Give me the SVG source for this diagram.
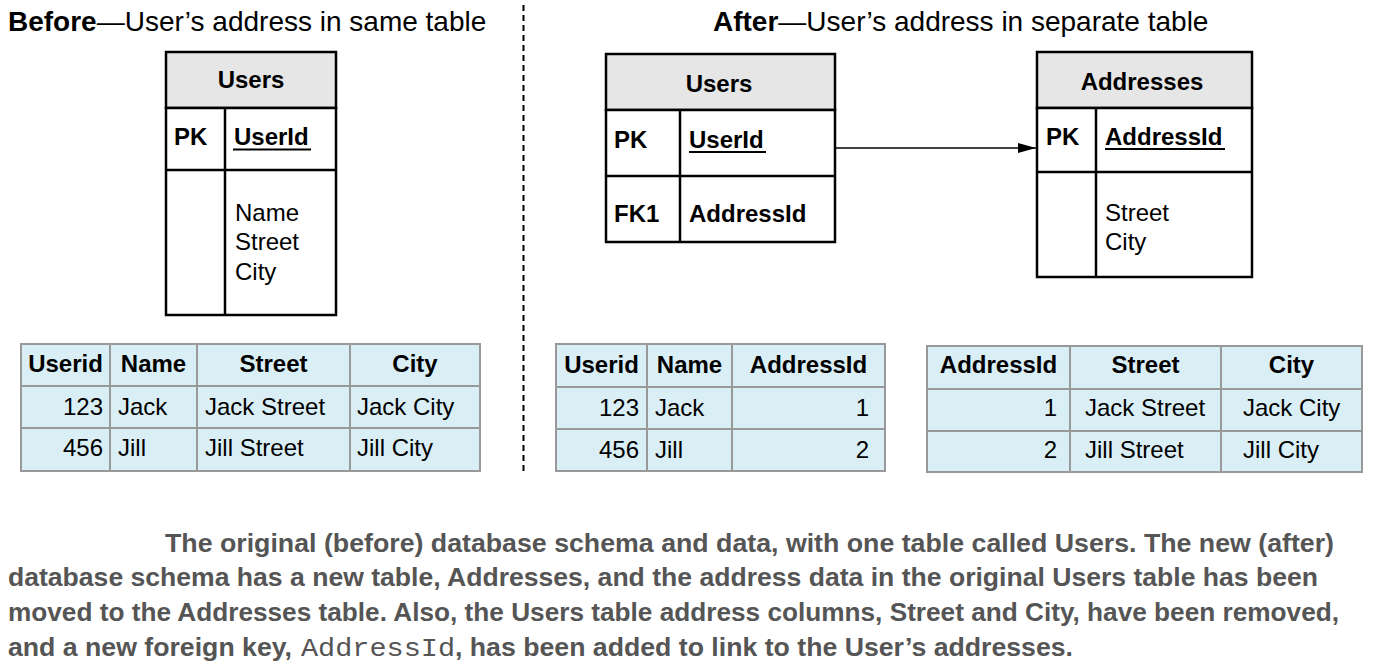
<svg xmlns="http://www.w3.org/2000/svg" width="1373" height="665" viewBox="0 0 1373 665">
<style>
text{font-family:"Liberation Sans",Arial,sans-serif;fill:#000}
.t{font-size:28px}
.b{font-weight:bold}
.er{fill:#fff;stroke:#000;stroke-width:2.5}
.hd{fill:#e6e6e6;stroke:#000;stroke-width:2.5}
.ln{stroke:#000;stroke-width:2.5;fill:none}
.lbl{font-size:24px}
.dt{fill:#daeef5;stroke:#999;stroke-width:2}
.dl{stroke:#999;stroke-width:2}
.dv{font-size:24px}
.c{text-anchor:middle}
.r{text-anchor:end}
.cap{font-size:25px;font-weight:bold;fill:#555}
.mono{font-family:"Liberation Mono","Courier New",monospace;font-size:25px;fill:#555}
</style>
<defs>
<marker id="ah" viewBox="0 0 18 10" refX="18" refY="5" markerWidth="18" markerHeight="10" markerUnits="userSpaceOnUse" orient="auto">
<path d="M0,0 L18,5 L0,10 z" fill="#000"/>
</marker>
</defs>

<g id="titles">
<text class="t" x="8" y="31"><tspan class="b">Before</tspan>—User’s address in same table</text>
<text class="t" x="713" y="31"><tspan class="b">After</tspan>—User’s address in separate table</text>
</g>
<line x1="523.5" y1="5" x2="523.5" y2="472" stroke="#000" stroke-width="2" stroke-dasharray="6,4"/>

<g id="users-before">
<rect class="hd" x="166" y="52" width="170" height="56"/>
<rect class="er" x="166" y="108" width="170" height="207"/>
<line class="ln" x1="166" y1="170" x2="336" y2="170"/>
<line class="ln" x1="225" y1="108" x2="225" y2="315"/>
<text class="lbl b c" x="251" y="88">Users</text>
<text class="lbl b" x="174" y="145">PK</text>
<text class="lbl b" x="234" y="145">UserId</text>
<line x1="233" y1="149.5" x2="311" y2="149.5" stroke="#000" stroke-width="2"/>
<text class="lbl" x="235" y="221">Name</text>
<text class="lbl" x="235" y="250">Street</text>
<text class="lbl" x="235" y="280">City</text>
</g>

<g id="users-after">
<rect class="hd" x="606" y="54" width="229" height="56"/>
<rect class="er" x="606" y="110" width="229" height="132"/>
<line class="ln" x1="606" y1="176" x2="835" y2="176"/>
<line class="ln" x1="680" y1="110" x2="680" y2="242"/>
<text class="lbl b c" x="719" y="92">Users</text>
<text class="lbl b" x="614" y="148">PK</text>
<text class="lbl b" x="689" y="148">UserId</text>
<line x1="689" y1="152" x2="766" y2="152" stroke="#000" stroke-width="2"/>
<text class="lbl b" x="614" y="222">FK1</text>
<text class="lbl b" x="689" y="222">AddressId</text>
</g>

<g id="addresses">
<rect class="hd" x="1037" y="52" width="215" height="56"/>
<rect class="er" x="1037" y="108" width="215" height="169"/>
<line class="ln" x1="1037" y1="172" x2="1252" y2="172"/>
<line class="ln" x1="1096" y1="108" x2="1096" y2="277"/>
<text class="lbl b c" x="1142" y="90">Addresses</text>
<text class="lbl b" x="1046" y="145">PK</text>
<text class="lbl b" x="1105" y="145">AddressId</text>
<line x1="1105" y1="149" x2="1225" y2="149" stroke="#000" stroke-width="2"/>
<text class="lbl" x="1105" y="221">Street</text>
<text class="lbl" x="1105" y="250">City</text>
</g>

<g id="connectors">
<line x1="835" y1="148" x2="1036" y2="148" stroke="#000" stroke-width="1.5" marker-end="url(#ah)"/>
</g>

<g id="data-before">
<rect class="dt" x="21" y="344" width="459" height="127"/>
<line class="dl" x1="21" y1="386" x2="480" y2="386"/>
<line class="dl" x1="21" y1="428" x2="480" y2="428"/>
<line class="dl" x1="110" y1="344" x2="110" y2="471"/>
<line class="dl" x1="197" y1="344" x2="197" y2="471"/>
<line class="dl" x1="350" y1="344" x2="350" y2="471"/>
<text class="dv b c" x="65.5" y="372">Userid</text>
<text class="dv b c" x="153.5" y="372">Name</text>
<text class="dv b c" x="273.5" y="372">Street</text>
<text class="dv b c" x="415" y="372">City</text>
<text class="dv r" x="103" y="415">123</text>
<text class="dv" x="118" y="415">Jack</text>
<text class="dv" x="205" y="415">Jack Street</text>
<text class="dv" x="357" y="415">Jack City</text>
<text class="dv r" x="103" y="456">456</text>
<text class="dv" x="118" y="456">Jill</text>
<text class="dv" x="205" y="456">Jill Street</text>
<text class="dv" x="357" y="456">Jill City</text>
</g>

<g id="data-users-after">
<rect class="dt" x="556" y="344" width="329" height="127"/>
<line class="dl" x1="556" y1="387" x2="885" y2="387"/>
<line class="dl" x1="556" y1="429" x2="885" y2="429"/>
<line class="dl" x1="647" y1="344" x2="647" y2="471"/>
<line class="dl" x1="732" y1="344" x2="732" y2="471"/>
<text class="dv b c" x="601.5" y="373">Userid</text>
<text class="dv b c" x="689.5" y="373">Name</text>
<text class="dv b c" x="808.5" y="373">AddressId</text>
<text class="dv r" x="639" y="416">123</text>
<text class="dv" x="655" y="416">Jack</text>
<text class="dv r" x="869" y="416">1</text>
<text class="dv r" x="639" y="458">456</text>
<text class="dv" x="655" y="458">Jill</text>
<text class="dv r" x="869" y="458">2</text>
</g>

<g id="data-addresses-after">
<rect class="dt" x="927" y="346" width="435" height="126"/>
<line class="dl" x1="927" y1="389" x2="1362" y2="389"/>
<line class="dl" x1="927" y1="431" x2="1362" y2="431"/>
<line class="dl" x1="1070" y1="346" x2="1070" y2="472"/>
<line class="dl" x1="1221" y1="346" x2="1221" y2="472"/>
<text class="dv b c" x="998.5" y="373">AddressId</text>
<text class="dv b c" x="1145.5" y="373">Street</text>
<text class="dv b c" x="1291.5" y="373">City</text>
<text class="dv r" x="1057" y="416">1</text>
<text class="dv" x="1085" y="416">Jack Street</text>
<text class="dv" x="1243" y="416">Jack City</text>
<text class="dv r" x="1057" y="458">2</text>
<text class="dv" x="1085" y="458">Jill Street</text>
<text class="dv" x="1243" y="458">Jill City</text>
</g>

<g id="caption">
<text class="cap" x="165" y="552" textLength="1169" lengthAdjust="spacingAndGlyphs">The original (before) database schema and data, with one table called Users. The new (after)</text>
<text class="cap" x="8" y="586" textLength="1310" lengthAdjust="spacingAndGlyphs">database schema has a new table, Addresses, and the address data in the original Users table has been</text>
<text class="cap" x="8" y="621" textLength="1331" lengthAdjust="spacingAndGlyphs">moved to the Addresses table. Also, the Users table address columns, Street and City, have been removed,</text>
<text class="cap" x="8" y="656" textLength="284" lengthAdjust="spacingAndGlyphs">and a new foreign key,</text>
<text class="mono" x="301" y="656" textLength="154" lengthAdjust="spacingAndGlyphs">AddressId</text>
<text class="cap" x="455" y="656" textLength="618" lengthAdjust="spacingAndGlyphs">, has been added to link to the User’s addresses.</text>
</g>
</svg>
